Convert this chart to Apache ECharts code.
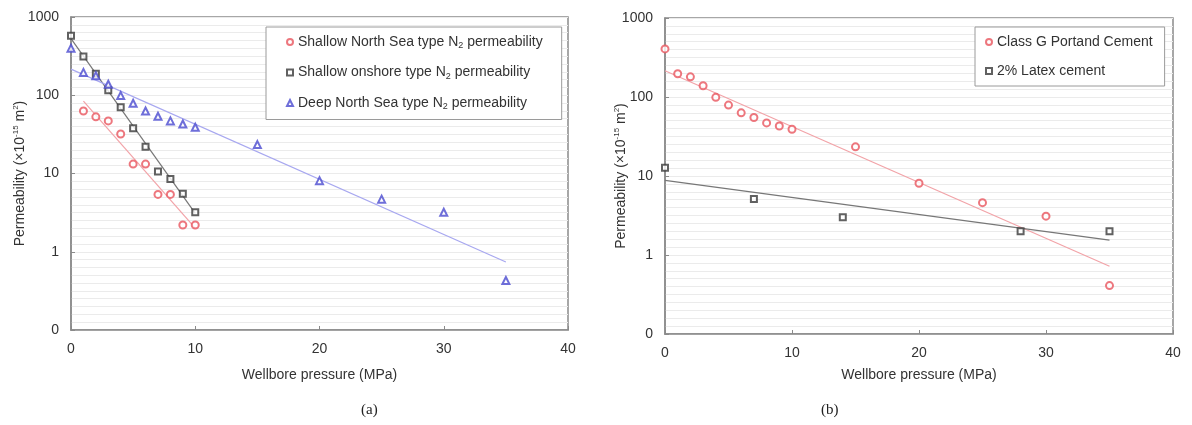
<!DOCTYPE html>
<html>
<head>
<meta charset="utf-8">
<script src="https://cdn.jsdelivr.net/npm/echarts@6/dist/echarts.min.js"></script>
<style>html,body{margin:0;padding:0;background:#fff}#c{width:1192px;height:425px}</style>
</head>
<body>
<div id="c"></div>
<script>
// ---- data ----
const xTicks = [0, 10, 20, 30, 40];
const yTickLabels = {0.1: '0', 1: '1', 10: '10', 100: '100', 1000: '1000'};

// Panel (a)
const shallowNSX = [1, 2, 3, 4, 5, 6, 7, 8, 9, 10];
const shallowNSY = [63, 53, 47, 32, 13.2, 13.2, 5.4, 5.4, 2.2, 2.2];
const onshoreX = [0, 1, 2, 3, 4, 5, 6, 7, 8, 9, 10];
const onshoreY = [574, 313, 188, 116, 70, 38, 22, 10.6, 8.5, 5.5, 3.2];
const deepNSX = [0, 1, 2, 3, 4, 5, 6, 7, 8, 9, 10, 15, 20, 25, 30, 35];
const deepNSY = [400, 196, 178, 138, 99, 79, 63, 54, 47, 43, 39, 23.4, 8.1, 4.7, 3.2, 0.43];
const shallowNSTrendX = [1, 10];
const shallowNSTrendY = [84, 2.0];
const onshoreTrendX = [0, 10];
const onshoreTrendY = [530, 3.1];
const deepNSTrendX = [0, 35];
const deepNSTrendY = [216, 0.74];

// Panel (b)
const classGX = [0, 1, 2, 3, 4, 5, 6, 7, 8, 9, 10, 15, 20, 25, 30, 35];
const classGY = [406, 197, 180, 139, 99, 79, 63, 55, 47, 43, 39, 23.4, 8.1, 4.6, 3.1, 0.41];
const latexX = [0, 7, 14, 28, 35];
const latexY = [12.7, 5.1, 3.0, 2.0, 2.0];
const classGTrendX = [0, 35];
const classGTrendY = [215, 0.72];
const latexTrendX = [0, 35];
const latexTrendY = [8.8, 1.54];

const names = {
  sNS: 'Shallow North Sea type N2 permeability',
  on: 'Shallow onshore type N2 permeability',
  dNS: 'Deep North Sea type N2 permeability',
  cG: 'Class G Portand Cement',
  lx: '2% Latex cement'
};

const zip = (xs, ys) => xs.map((x, i) => [x, ys[i]]);
const FONT = 'Liberation Sans, Arial, sans-serif';
const RED = '#e8555e', RED_L = '#f2a3a8';
const BLK = '#3a3a3a', BLK_L = '#777777';
const BLU = '#4a4ad0', BLU_L = '#a8a8f0';

function xAxis(gi, gap) {
  return {
    gridIndex: gi, type: 'value', min: 0, max: 40, interval: 10,
    axisLine: {show: true, lineStyle: {color: '#8a8a8a', width: 1.5}},
    axisTick: {show: true, inside: true, length: 4, lineStyle: {color: '#8a8a8a'}},
    axisLabel: {fontFamily: FONT, fontSize: 14, color: '#333', margin: 12,
      formatter: v => xTicks.includes(v) ? String(v) : ''},
    splitLine: {show: false},
    name: 'Wellbore pressure (MPa)', nameLocation: 'middle', nameGap: gap,
    nameTextStyle: {fontFamily: FONT, fontSize: 14, color: '#333'}
  };
}
function yAxis(gi, gap) {
  return {
    gridIndex: gi, type: 'log', logBase: 10, min: 0.1, max: 1000, z: 3,
    axisLine: {show: true, lineStyle: {color: '#8a8a8a', width: 1.5}},
    axisTick: {show: true, inside: true, length: 4, lineStyle: {color: '#8a8a8a'}},
    axisLabel: {fontFamily: FONT, fontSize: 14, color: '#333', margin: 12,
      formatter: v => { const k = Object.keys(yTickLabels).find(t => Math.abs(Math.log10(+t) - Math.log10(v)) < 1e-6); return k ? yTickLabels[k] : ''; }},
    splitLine: {show: false},
    minorSplitLine: {show: false},
    name: 'Permeability (×10{sup|-15} m{sup|2})', nameLocation: 'middle', nameGap: gap, nameRotate: 90,
    nameMoveOverlap: false,
    nameTextStyle: {fontFamily: FONT, fontSize: 14, color: '#333',
      rich: {sup: {fontFamily: FONT, fontSize: 8, color: '#333', verticalAlign: 'top', lineHeight: 16}}}
  };
}
// evenly spaced faint horizontal grid (decorative background only)
function gridAxis(gi) {
  return {
    gridIndex: gi, type: 'value', min: 0, max: 40, interval: 1, position: 'right',
    axisLine: {show: false}, axisTick: {show: false}, axisLabel: {show: false},
    splitLine: {show: true, lineStyle: {color: '#ebebeb', width: 1}}, z: 0
  };
}
function scatter(name, xi, data, symbol, color, size) {
  return {name, type: 'scatter', xAxisIndex: xi, yAxisIndex: xi, data, symbol, symbolSize: size,
    itemStyle: {color: color, borderColor: color, borderWidth: 1.3}, z: 5, silent: true};
}
function trend(xi, data, color) {
  return {type: 'line', xAxisIndex: xi, yAxisIndex: xi, data, showSymbol: false, symbol: 'none',
    lineStyle: {color, width: 1.2}, z: 3, silent: true};
}
function legend(left, top, list, padding) {
  return {
    left, top, orient: 'vertical', itemGap: 15, itemWidth: 6, itemHeight: 6,
    padding, borderColor: '#9a9a9a', borderWidth: 1, backgroundColor: '#fff',
    data: list,
    formatter: n => n.replace('N2', 'N{sub|2}'),
    textStyle: {fontFamily: FONT, fontSize: 14, color: '#333',
      rich: {sub: {fontFamily: FONT, fontSize: 9, color: '#333', verticalAlign: 'bottom', lineHeight: 17}}}
  };
}

const chart = echarts.init(document.getElementById('c'), null, {renderer: 'canvas'});
chart.setOption({
  backgroundColor: '#fff',
  animation: false,
  grid: [
    {left: 71, top: 17, width: 497, height: 313, show: true, borderColor: '#8a8a8a', borderWidth: 1.5, backgroundColor: 'transparent'},
    {left: 665, top: 18, width: 508, height: 316, show: true, borderColor: '#8a8a8a', borderWidth: 1.5, backgroundColor: 'transparent'}
  ],
  xAxis: [xAxis(0, 38), xAxis(1, 34)],
  yAxis: [yAxis(0, 43), yAxis(1, 36), gridAxis(0), gridAxis(1)],
  legend: [
    legend(266, 27, [{name: names.sNS, icon: 'emptyCircle'}, {name: names.on, icon: 'emptyRect'}, {name: names.dNS, icon: 'emptyTriangle'}], [8, 19, 8, 20]),
    legend(975, 27, [{name: names.cG, icon: 'emptyCircle'}, {name: names.lx, icon: 'emptyRect'}], [8, 12, 8, 10])
  ],
  title: [
    {text: '(a)', left: 356, top: 398, textStyle: {fontFamily: 'Liberation Serif, Times New Roman, serif', fontSize: 15, fontWeight: 'normal', color: '#222'}},
    {text: '(b)', left: 816, top: 398, textStyle: {fontFamily: 'Liberation Serif, Times New Roman, serif', fontSize: 15, fontWeight: 'normal', color: '#222'}}
  ],
  series: [
    trend(0, zip(shallowNSTrendX, shallowNSTrendY), RED_L),
    trend(0, zip(onshoreTrendX, onshoreTrendY), BLK_L),
    trend(0, zip(deepNSTrendX, deepNSTrendY), BLU_L),
    scatter(names.sNS, 0, zip(shallowNSX, shallowNSY), 'emptyCircle', RED, 7),
    scatter(names.on, 0, zip(onshoreX, onshoreY), 'emptyRect', BLK, 6),
    scatter(names.dNS, 0, zip(deepNSX, deepNSY), 'emptyTriangle', BLU, 7),
    trend(1, zip(classGTrendX, classGTrendY), RED_L),
    trend(1, zip(latexTrendX, latexTrendY), BLK_L),
    scatter(names.cG, 1, zip(classGX, classGY), 'emptyCircle', RED, 7),
    scatter(names.lx, 1, zip(latexX, latexY), 'emptyRect', BLK, 6)
  ]
});
</script>
</body>
</html>
